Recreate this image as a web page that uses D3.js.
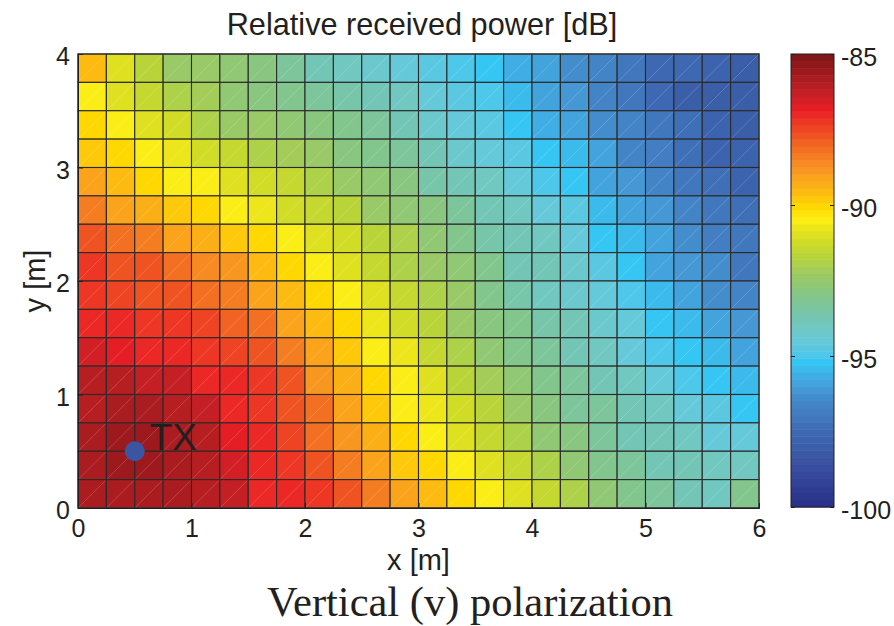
<!DOCTYPE html>
<html>
<head>
<meta charset="utf-8">
<script src="https://cdn.jsdelivr.net/npm/d3@7"></script>
<style>
  html, body { margin: 0; padding: 0; background: #fff; }
  svg { display: block; }
  text { fill: #231f20; }
</style>
</head>
<body>
<svg id="chart" width="894" height="626"></svg>
<script>
// Relative received power [dB] on a 0.25 m grid, rows listed from y = 4 m down to y = 0 m,
// columns from x = 0 m to x = 6 m.
const power = [
  [-89.6,-91.0,-91.7,-92.3,-92.4,-92.7,-92.9,-93.4,-93.7,-94.0,-94.2,-94.6,-94.7,-94.9,-95.2,-95.6,-96.0,-96.3,-96.6,-97.1,-97.5,-97.6,-97.8,-98.0],
  [-90.5,-91.0,-91.4,-91.8,-92.1,-92.6,-92.8,-93.0,-93.3,-93.5,-93.8,-94.1,-94.6,-94.7,-94.9,-95.4,-95.9,-96.2,-96.6,-97.0,-97.5,-97.9,-98.1,-97.9],
  [-90.1,-90.5,-91.0,-91.3,-91.8,-92.3,-92.4,-92.6,-92.9,-93.2,-93.4,-93.8,-94.2,-94.6,-94.7,-95.2,-95.6,-96.0,-96.3,-96.6,-97.1,-97.4,-97.8,-98.0],
  [-89.7,-90.1,-90.5,-90.8,-91.1,-91.5,-91.8,-92.1,-92.5,-92.8,-93.0,-93.4,-93.8,-94.2,-94.5,-94.7,-95.2,-95.5,-95.9,-96.5,-96.9,-97.3,-97.7,-97.8],
  [-89.1,-89.6,-90.0,-90.4,-90.6,-91.0,-91.2,-91.5,-92.0,-92.3,-92.7,-92.9,-93.5,-93.8,-94.0,-94.4,-94.9,-95.2,-95.9,-96.1,-96.5,-97.0,-97.4,-97.7],
  [-88.5,-89.0,-89.4,-89.8,-90.1,-90.4,-90.8,-91.1,-91.5,-91.7,-92.3,-92.7,-92.9,-93.4,-93.8,-94.1,-94.5,-94.8,-95.5,-95.9,-96.2,-96.6,-97.1,-97.4],
  [-87.8,-88.1,-88.5,-89.0,-89.3,-89.7,-90.0,-90.5,-91.0,-91.2,-91.6,-92.0,-92.7,-93.2,-93.5,-93.8,-94.1,-94.5,-95.2,-95.5,-95.9,-96.4,-96.9,-97.1],
  [-87.3,-87.6,-87.8,-88.1,-88.7,-88.8,-89.5,-90.1,-90.5,-91.0,-91.4,-91.9,-92.3,-92.7,-93.2,-93.7,-93.9,-94.2,-94.8,-95.2,-95.9,-96.2,-96.4,-97.0],
  [-87.3,-87.5,-87.7,-87.8,-88.1,-88.5,-89.0,-89.5,-90.1,-90.5,-91.0,-91.4,-92.0,-92.5,-93.0,-93.5,-94.0,-94.3,-94.5,-94.9,-95.5,-95.9,-96.3,-96.6],
  [-86.9,-87.0,-87.2,-87.3,-87.5,-87.9,-88.2,-89.0,-89.6,-90.1,-90.7,-91.2,-91.7,-92.3,-92.8,-93.2,-93.5,-93.9,-94.2,-94.5,-95.2,-95.5,-95.9,-96.2],
  [-86.6,-86.7,-86.9,-87.0,-87.2,-87.5,-87.7,-88.4,-89.0,-89.8,-90.4,-90.8,-91.4,-92.0,-92.6,-93.1,-93.3,-93.7,-94.1,-94.4,-94.9,-95.2,-95.5,-95.9],
  [-86.1,-86.1,-86.2,-86.4,-86.9,-87.0,-87.3,-87.8,-88.8,-89.4,-90.1,-90.5,-91.0,-91.7,-92.1,-92.6,-93.0,-93.4,-93.7,-94.1,-94.4,-94.9,-95.2,-95.5],
  [-86.1,-85.8,-85.8,-86.1,-86.4,-86.9,-87.2,-87.6,-88.2,-89.0,-89.8,-90.4,-90.7,-91.3,-91.7,-92.3,-92.8,-93.3,-93.4,-93.8,-94.1,-94.4,-94.8,-95.2],
  [-85.8,-85.5,-85.5,-85.8,-86.1,-86.8,-87.0,-87.5,-88.1,-88.8,-89.4,-90.1,-90.5,-91.0,-91.4,-92.0,-92.6,-92.9,-93.3,-93.7,-93.8,-94.1,-94.6,-94.5],
  [-85.8,-85.5,-85.5,-85.8,-86.1,-86.6,-86.9,-87.3,-87.8,-88.4,-89.0,-89.7,-90.1,-90.5,-91.0,-91.4,-92.0,-92.6,-93.0,-93.3,-93.7,-93.9,-94.1,-94.0],
  [-85.8,-85.8,-85.8,-85.8,-86.1,-86.4,-86.9,-87.0,-87.3,-87.7,-88.4,-89.1,-89.6,-90.1,-90.5,-91.0,-91.4,-92.0,-92.6,-93.0,-93.4,-93.8,-94.0,-93.2]
];

const cellSize = 0.25;            // grid spacing [m]
const xDomain = [0, 6];
const yDomain = [0, 4];
const xTicks = [0, 1, 2, 3, 4, 5, 6];
const yTicks = [0, 1, 2, 3, 4];
const powerDomain = [-100, -85];
const cbTicks = [-85, -90, -95, -100];
const txPos = [0.5, 0.5];
const txLabel = "TX";

// Jet-like colour map stops (value in dB, colour)
const cmapValues = [-100, -99.5, -99, -98.5, -98, -97.5, -97, -96.5, -96, -95.6, -95.2, -94.9, -94.5, -94.1, -93.7, -93.3, -92.9, -92.5, -92.1, -91.7, -91.3, -90.9, -90.5, -90.1, -89.7, -89.3, -88.8, -88.3, -87.8, -87.3, -86.8, -86.5, -86.0, -85.5, -85];
const cmapColors = ["#283088", "#2e3a90", "#35479a", "#3a52a1", "#3b5ea9", "#3e6ab3", "#4179bd", "#4487c8", "#459ed8", "#3fb1e6", "#36c6f4", "#53c7e8", "#66c9d9", "#6fc8c5", "#74c6b2", "#7dc59a", "#87c683", "#95c96e", "#a5ce55", "#b7d43a", "#ccda28", "#e2e11e", "#fbee17", "#ffdc00", "#fec20e", "#fbad18", "#f89420", "#f47721", "#f15a22", "#ee3a24", "#e91d25", "#d01f26", "#b41e22", "#99181c", "#7b1416"];
const nLevels = 64;

const svg = d3.select("#chart");
const sans = "'Liberation Sans', Arial, Helvetica, sans-serif";

const plot = { left: 78, right: 759, top: 54, bottom: 508 };
const cbar = { left: 791, right: 834, top: 54, bottom: 507 };

const x = d3.scaleLinear().domain(xDomain).range([plot.left, plot.right]);
const y = d3.scaleLinear().domain(yDomain).range([plot.bottom, plot.top]);

const smooth = d3.scaleLinear().domain(cmapValues).range(cmapColors).interpolate(d3.interpolateRgb).clamp(true);
const step = (powerDomain[1] - powerDomain[0]) / nLevels;
const color = d3.scaleQuantize()
  .domain(powerDomain)
  .range(d3.range(nLevels).map(i => smooth(powerDomain[0] + (i + 0.5) * step)));

// Cells
const cells = [];
power.forEach((row, r) => row.forEach((v, c) => {
  const x0 = c * cellSize;
  const y0 = yDomain[1] - (r + 1) * cellSize;
  cells.push({ x0, x1: x0 + cellSize, y0, y1: y0 + cellSize, v });
}));

const gCells = svg.append("g");
gCells.selectAll("rect")
  .data(cells)
  .join("rect")
  .attr("x", d => x(d.x0))
  .attr("y", d => y(d.y1))
  .attr("width", d => x(d.x1) - x(d.x0))
  .attr("height", d => y(d.y0) - y(d.y1))
  .attr("fill", d => color(d.v))
  .attr("stroke", "#2a2a2a")
  .attr("stroke-width", 1.1);

// Faint triangle edges of the surface facets
gCells.selectAll("line.diag")
  .data(cells)
  .join("line")
  .attr("class", "diag")
  .attr("x1", d => x(d.x0) + 1)
  .attr("y1", d => y(d.y0) - 1)
  .attr("x2", d => x(d.x1) - 1)
  .attr("y2", d => y(d.y1) + 1)
  .attr("stroke", "#ffffff")
  .attr("stroke-opacity", 0.3)
  .attr("stroke-width", 0.6);

// Frame
svg.append("rect")
  .attr("x", plot.left).attr("y", plot.top)
  .attr("width", plot.right - plot.left).attr("height", plot.bottom - plot.top)
  .attr("fill", "none").attr("stroke", "#3a3a3a").attr("stroke-width", 1.2);

// Axes
const axisFont = g => g.selectAll("text").attr("font-family", sans).attr("font-size", 25).attr("fill", "#231f20");
const xAxis = svg.append("g")
  .attr("transform", `translate(0,${plot.bottom})`)
  .call(d3.axisBottom(x).tickValues(xTicks).tickFormat(d3.format("d")).tickSize(-5).tickPadding(11))
  .call(axisFont);
xAxis.select(".domain").attr("stroke", "#231f20");
xAxis.selectAll(".tick line").attr("stroke", "#231f20");

const yAxis = svg.append("g")
  .attr("transform", `translate(${plot.left},0)`)
  .call(d3.axisLeft(y).tickValues(yTicks).tickFormat(d3.format("d")).tickSize(-5).tickPadding(8))
  .call(axisFont);
yAxis.selectAll("text").attr("dy", "0.42em");
yAxis.select(".domain").attr("stroke", "#231f20");
yAxis.selectAll(".tick line").attr("stroke", "#231f20");

// Axis titles
svg.append("text")
  .attr("x", (plot.left + plot.right) / 2).attr("y", 570)
  .attr("text-anchor", "middle")
  .attr("font-family", sans).attr("font-size", 29)
  .text("x [m]");

svg.append("text")
  .attr("transform", `translate(45,${(plot.top + plot.bottom) / 2}) rotate(-90)`)
  .attr("text-anchor", "middle")
  .attr("font-family", sans).attr("font-size", 29)
  .text("y [m]");

svg.append("text")
  .attr("x", 422).attr("y", 35)
  .attr("text-anchor", "middle")
  .attr("font-family", sans).attr("font-size", 30.7)
  .text("Relative received power [dB]");

svg.append("text")
  .attr("x", 470).attr("y", 616)
  .attr("text-anchor", "middle")
  .attr("font-family", "'Liberation Serif', 'Times New Roman', serif").attr("font-size", 42.5)
  .text("Vertical (v) polarization");

// Transmitter
svg.append("circle")
  .attr("cx", x(txPos[0])).attr("cy", y(txPos[1]))
  .attr("r", 10)
  .attr("fill", "#3b55a3");
svg.append("text")
  .attr("x", x(txPos[0]) + 15).attr("y", y(txPos[1]) - 1)
  .attr("font-family", sans).attr("font-size", 37)
  .text(txLabel);

// Colour bar
const cb = d3.scaleLinear().domain(powerDomain).range([cbar.bottom, cbar.top]);
svg.append("g").selectAll("rect")
  .data(color.range())
  .join("rect")
  .attr("x", cbar.left)
  .attr("width", cbar.right - cbar.left)
  .attr("y", c => cb(color.invertExtent(c)[1]))
  .attr("height", c => cb(color.invertExtent(c)[0]) - cb(color.invertExtent(c)[1]) + 0.5)
  .attr("fill", c => c);

svg.append("rect")
  .attr("x", cbar.left).attr("y", cbar.top)
  .attr("width", cbar.right - cbar.left).attr("height", cbar.bottom - cbar.top)
  .attr("fill", "none").attr("stroke", "#231f20").attr("stroke-width", 1);

const cbAxis = svg.append("g")
  .attr("transform", `translate(${cbar.right},0)`)
  .call(d3.axisRight(cb).tickValues(cbTicks).tickFormat(d3.format("d")).tickSize(-4).tickPadding(7))
  .call(axisFont);
cbAxis.select(".domain").remove();
cbAxis.selectAll("text").attr("dy", "0.45em").text(d => String(d));
cbAxis.selectAll(".tick line").attr("stroke", "#231f20");

const cbAxisL = svg.append("g")
  .attr("transform", `translate(${cbar.left},0)`)
  .call(d3.axisLeft(cb).tickValues(cbTicks).tickFormat("").tickSize(-4));
cbAxisL.select(".domain").remove();
cbAxisL.selectAll(".tick line").attr("stroke", "#231f20");
</script>
</body>
</html>
